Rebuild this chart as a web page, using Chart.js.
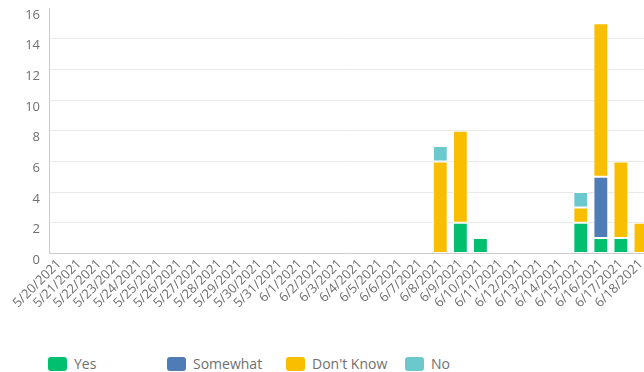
<!DOCTYPE html>
<html>
<head>
<meta charset="utf-8">
<script src="https://cdn.jsdelivr.net/npm/chart.js@4"></script>
<style>
  html, body { margin: 0; padding: 0; background: #fff; overflow: hidden; }
  #wrap { position: relative; width: 655px; height: 314px; }
  #legend { position: absolute; left: 48px; top: 354px; display: flex; font-family: "Open Sans", sans-serif; font-size: 14px; color: #6f6f6f; }
  .item { width: 119px; display: flex; align-items: center; }
  .swatch { width: 19px; height: 14px; border-radius: 3px; margin-right: 7px; }
</style>
</head>
<body>
<div id="wrap"><canvas id="responses"></canvas></div>
<div id="legend"></div>
<script>
const labels = ['5/20/2021', '5/21/2021', '5/22/2021', '5/23/2021', '5/24/2021', '5/25/2021',
  '5/26/2021', '5/27/2021', '5/28/2021', '5/29/2021', '5/30/2021', '5/31/2021',
  '6/1/2021', '6/2/2021', '6/3/2021', '6/4/2021', '6/5/2021', '6/6/2021', '6/7/2021',
  '6/8/2021', '6/9/2021', '6/10/2021', '6/11/2021', '6/12/2021', '6/13/2021',
  '6/14/2021', '6/15/2021', '6/16/2021', '6/17/2021', '6/18/2021'];

const yesValues      = [0,0,0,0,0,0,0,0,0,0,0,0,0,0,0,0,0,0,0, 0,2,1,0,0,0,0,2,1,1,0];
const somewhatValues = [0,0,0,0,0,0,0,0,0,0,0,0,0,0,0,0,0,0,0, 0,0,0,0,0,0,0,0,4,0,0];
const dontKnowValues = [0,0,0,0,0,0,0,0,0,0,0,0,0,0,0,0,0,0,0, 6,6,0,0,0,0,0,1,10,5,2];
const noValues       = [0,0,0,0,0,0,0,0,0,0,0,0,0,0,0,0,0,0,0, 1,0,0,0,0,0,0,1,0,0,0];

const yTicks = [0, 2, 4, 6, 8, 10, 12, 14, 16];

const series = [
  { label: 'Yes', data: yesValues, color: '#00bf6f' },
  { label: 'Somewhat', data: somewhatValues, color: '#507cb6' },
  { label: "Don't Know", data: dontKnowValues, color: '#f9be00' },
  { label: 'No', data: noValues, color: '#6bc8cd' }
];

const ctx = document.getElementById('responses').getContext('2d');
const chart = new Chart(ctx, {
  type: 'bar',
  data: {
    labels: labels,
    datasets: series.map(s => ({
      label: s.label,
      data: s.data.map(v => v === 0 ? null : v),
      backgroundColor: s.color,
      borderColor: '#ffffff',
      borderWidth: 1,
      borderSkipped: false,
      barPercentage: 0.74,
      categoryPercentage: 1
    }))
  },
  options: {
    responsive: true,
    maintainAspectRatio: false,
    animation: false,
    layout: { padding: { top: 8, left: 0, right: 0, bottom: 0 } },
    plugins: {
      legend: { display: false },
      tooltip: { enabled: false }
    },
    scales: {
      x: {
        stacked: true,
        grid: { display: false, drawTicks: false },
        border: { color: '#cccccc' },
        ticks: {
          color: '#6f6f6f',
          font: { family: '"Open Sans", sans-serif', size: 13 },
          minRotation: 45,
          maxRotation: 45,
          autoSkip: false,
          padding: 3
        }
      },
      y: {
        stacked: true,
        min: 0,
        max: 16,
        afterBuildTicks: scale => { scale.ticks = yTicks.map(v => ({ value: v })); },
        afterFit: scale => {
          scale.width = 49;
          // labels sit below their lines, so no extra room is needed above the top tick
          scale.paddingTop = 0;
          scale.paddingBottom = 0;
        },
        grid: {
          drawTicks: false,
          color: c => (c.tick && c.tick.value === 16) ? 'rgba(0,0,0,0)' : '#e9e9e9'
        },
        border: { color: '#cccccc' },
        ticks: {
          color: '#6f6f6f',
          font: { family: '"Open Sans", sans-serif', size: 13 },
          padding: 9,
          labelOffset: 7
        }
      }
    }
  }
});

// legend built from the same series list
const legend = document.getElementById('legend');
series.forEach(s => {
  const item = document.createElement('div');
  item.className = 'item';
  const sw = document.createElement('span');
  sw.className = 'swatch';
  sw.style.background = s.color;
  const txt = document.createElement('span');
  txt.textContent = s.label;
  item.appendChild(sw);
  item.appendChild(txt);
  legend.appendChild(item);
});
</script>
</body>
</html>
